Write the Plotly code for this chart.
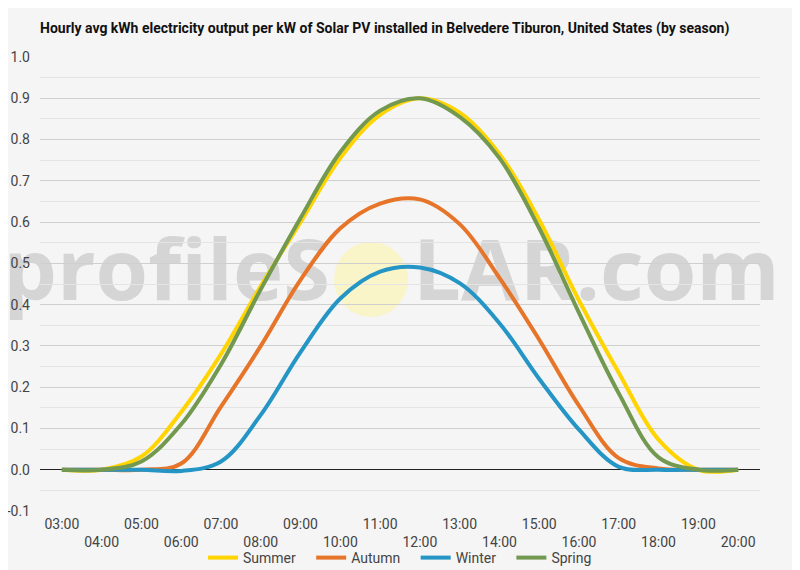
import plotly.graph_objects as go

# hourly averages
hours = list(range(3, 21))
hour_labels = [f"{h:02d}:00" for h in hours]

summer = [0.0, 0.0, 0.032, 0.14, 0.28, 0.445, 0.60, 0.755, 0.86, 0.90, 0.865, 0.765, 0.605, 0.41, 0.235, 0.073, 0.0, 0.0]
autumn = [0.0, 0.0, 0.0, 0.015, 0.153, 0.30, 0.46, 0.585, 0.645, 0.655, 0.595, 0.465, 0.315, 0.155, 0.028, 0.003, 0.0, 0.0]
winter = [0.0, 0.0, 0.0, -0.003, 0.02, 0.133, 0.285, 0.415, 0.48, 0.49, 0.452, 0.355, 0.22, 0.097, 0.007, 0.0, 0.0, 0.0]
spring = [0.0, 0.0, 0.02, 0.11, 0.255, 0.437, 0.61, 0.77, 0.87, 0.90, 0.855, 0.755, 0.585, 0.38, 0.185, 0.03, 0.0, 0.0]

y_ticks = [-0.1, 0.0, 0.1, 0.2, 0.3, 0.4, 0.5, 0.6, 0.7, 0.8, 0.9, 1.0]
y_labels = ["-0.1", "0.0", "0.1", "0.2", "0.3", "0.4", "0.5", "0.6", "0.7", "0.8", "0.9", "1.0"]

series = [
    ("Summer", summer, "#FFD400"),
    ("Autumn", autumn, "#E6752A"),
    ("Winter", winter, "#2595C6"),
    ("Spring", spring, "#72994F"),
]

# stagger the hour labels on two rows like the original
tick_text = [lbl if h % 2 == 1 else "<br>" + lbl for h, lbl in zip(hours, hour_labels)]

FONT = "Roboto, Arial, sans-serif"

# the page adds an 8px body margin, so the figure is drawn 8px smaller
W, H = 792, 562
L, T, B = 32, 49, 503   # plot area edges in figure pixels
R = 752


def px_x(p):
    # p is a reference pixel x
    return (p - 8 - L) / (R - L)


def px_y(p):
    return (B - (p - 8)) / (B - T)


fig = go.Figure()
for i, (name, vals, color) in enumerate(series):
    pad = "" if i == len(series) - 1 else "\u00a0\u00a0\u00a0"
    fig.add_trace(go.Scatter(
        x=hours, y=vals, name=name + pad, mode="lines",
        line=dict(color=color, width=4, shape="spline", smoothing=1.0),
    ))

wm_font = dict(family="Open Sans, Roboto, sans-serif", size=85,
               color="rgba(150,150,150,0.33)", weight="bold")
shapes = [
    dict(type="circle", xref="paper", yref="paper", layer="below",
         x0=px_x(334), x1=px_x(408), y0=px_y(317), y1=px_y(242),
         fillcolor="rgba(250,244,185,0.75)", line=dict(width=0)),
    dict(type="rect", xref="paper", yref="paper", layer="below",
         x0=px_x(0), x1=px_x(333), y0=px_y(323), y1=px_y(223),
         line=dict(width=0), fillcolor="rgba(0,0,0,0)",
         label=dict(text="profileS", textposition="middle right", font=wm_font, padding=0)),
    dict(type="rect", xref="paper", yref="paper", layer="below",
         x0=px_x(410), x1=px_x(800), y0=px_y(323), y1=px_y(223),
         line=dict(width=0), fillcolor="rgba(0,0,0,0)",
         label=dict(text="LAR.com", textposition="middle left", font=wm_font, padding=0)),
]

fig.update_layout(
    width=W, height=H,
    margin=dict(l=L, r=W - R, t=T, b=H - B, autoexpand=False),
    paper_bgcolor="#F5F5F5", plot_bgcolor="#F5F5F5",
    font=dict(family=FONT, size=14, color="#444444"),
    title=dict(
        text="<b>Hourly avg kWh electricity output per kW of Solar PV installed in Belvedere Tiburon, United States (by season)</b>",
        x=32 / W, xanchor="left", y=1 - 20 / H, yanchor="middle",
        font=dict(family=FONT, size=14, color="#111111"),
    ),
    xaxis=dict(
        range=[2.45, 20.55], tickvals=hours, ticktext=tick_text,
        showgrid=False, zeroline=False, showline=False, ticks="",
        tickfont=dict(size=14, color="#444444"), automargin=False,
        ticklabelstandoff=3,
    ),
    yaxis=dict(
        range=[-0.1, 1.0], tickvals=y_ticks, ticktext=y_labels,
        showgrid=True, gridcolor="#CFCFCF", gridwidth=1,
        minor=dict(dtick=0.05, showgrid=True, gridcolor="#E4E4E4", gridwidth=1),
        zeroline=True, zerolinecolor="#222222", zerolinewidth=1,
        showline=False, ticks="", ticklabelstandoff=9,
        tickfont=dict(size=14, color="#444444"), automargin=False,
    ),
    legend=dict(
        orientation="h", x=0.5, xanchor="center", y=px_y(558), yanchor="middle",
        font=dict(size=14, color="#444444"), bgcolor="rgba(0,0,0,0)",
        itemwidth=30, tracegroupgap=0,
    ),
    shapes=shapes,
    showlegend=True,
)

fig.write_html("out.html")
